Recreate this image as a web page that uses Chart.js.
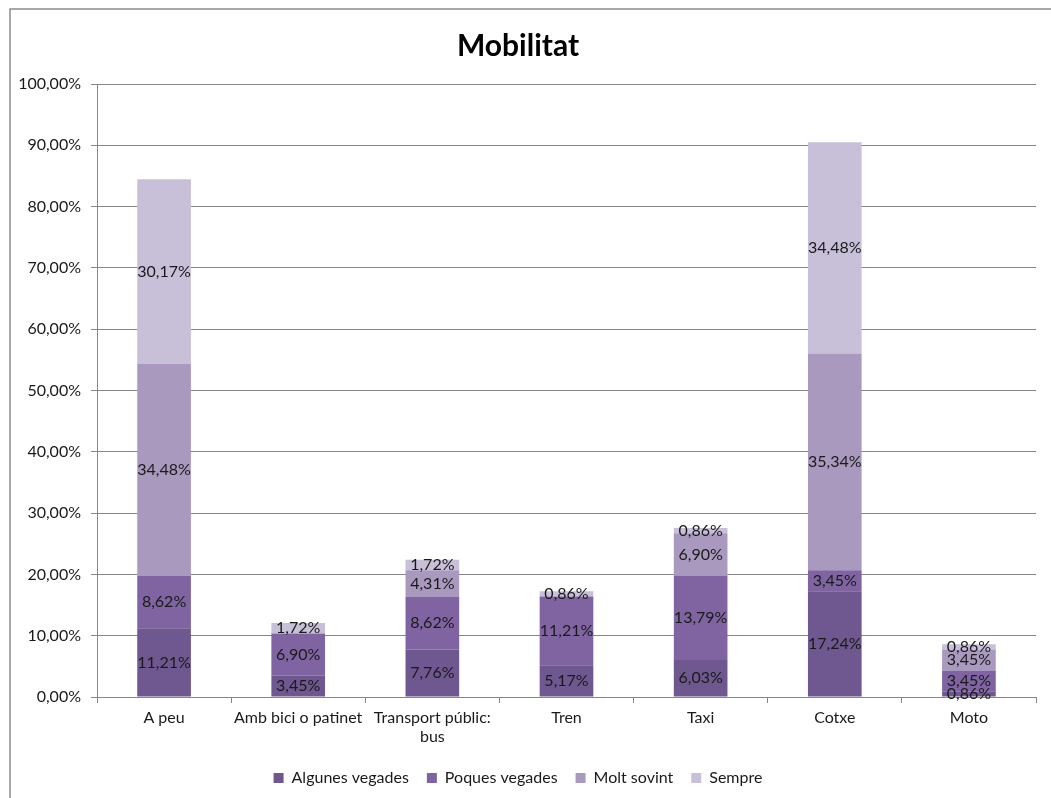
<!DOCTYPE html>
<html lang="ca">
<head>
    <meta charset="UTF-8">
    <title>Mobilitat</title>
    <script src="https://cdn.jsdelivr.net/npm/chart.js"></script>
    <style>
        body { margin: 0; background: #fff; }
        #wrap { width: 1051px; height: 798px; }
    </style>
</head>
<body>
    <div id="wrap"><canvas id="mobChart" width="1051" height="798"></canvas></div>

    <script>
        const categories = ['A peu', 'Amb bici o patinet', ['Transport públic:', 'bus'], 'Tren', 'Taxi', 'Cotxe', 'Moto'];
        const algunesVegades = [11.21, 3.45, 7.76, 5.17, 6.03, 17.24, 0.86];
        const poquesVegades  = [8.62, 6.90, 8.62, 11.21, 13.79, 3.45, 3.45];
        const moltSovint     = [34.48, 0, 4.31, 0, 6.90, 35.34, 3.45];
        const sempre         = [30.17, 1.72, 1.72, 0.86, 0.86, 34.48, 0.86];
        const yTicks = [0, 10, 20, 30, 40, 50, 60, 70, 80, 90, 100];

        const FONT = 'Lato, "Open Sans", sans-serif';
        const pct = v => v.toFixed(2).replace('.', ',') + '%';

        // draws the value in the middle of every segment, like excel data labels
        const barLabels = {
            id: 'barLabels',
            afterDatasetsDraw(chart) {
                const ctx = chart.ctx;
                ctx.save();
                ctx.font = '16px ' + FONT;
                ctx.fillStyle = '#1a1a1a';
                ctx.textAlign = 'center';
                ctx.textBaseline = 'middle';
                chart.data.datasets.forEach((ds, i) => {
                    chart.getDatasetMeta(i).data.forEach((bar, j) => {
                        const v = ds.data[j];
                        if (!v) return;
                        const p = bar.getProps(['x', 'y', 'base'], true);
                        ctx.fillText(pct(v), p.x, (p.y + p.base) / 2);
                    });
                });
                ctx.restore();
            }
        };

        const frame = {
            id: 'frame',
            beforeDraw(chart) {
                const ctx = chart.ctx;
                ctx.save();
                ctx.fillStyle = '#fff';
                ctx.fillRect(0, 0, chart.width, chart.height);
                ctx.strokeStyle = '#8c8c8c';
                ctx.lineWidth = 1.5;
                ctx.strokeRect(10, 9, chart.width + 20, chart.height + 20);
                ctx.restore();
            }
        };

        new Chart(document.getElementById('mobChart'), {
            type: 'bar',
            data: {
                labels: categories,
                datasets: [
                    { label: 'Algunes vegades', data: algunesVegades, backgroundColor: '#6f578f' },
                    { label: 'Poques vegades', data: poquesVegades, backgroundColor: '#7f64a1' },
                    { label: 'Molt sovint', data: moltSovint, backgroundColor: '#a999bf' },
                    { label: 'Sempre', data: sempre, backgroundColor: '#c8c0d8' }
                ]
            },
            options: {
                responsive: false,
                animation: false,
                layout: { padding: { left: 0, right: 15, top: 0, bottom: 2 } },
                datasets: { bar: { barPercentage: 0.4, categoryPercentage: 1, borderWidth: 0 } },
                scales: {
                    x: {
                        stacked: true,
                        grid: { drawOnChartArea: false, tickLength: 6, color: '#868686' },
                        border: { color: '#868686' },
                        ticks: { color: '#1a1a1a', font: { family: FONT, size: 16 }, padding: 5, maxRotation: 0, autoSkip: false },
                        afterFit: s => { s.height = 55; }
                    },
                    y: {
                        stacked: true,
                        min: 0,
                        max: 100,
                        afterBuildTicks: s => { s.ticks = yTicks.map(v => ({ value: v })); },
                        grid: { color: '#868686', tickLength: 6 },
                        border: { color: '#868686' },
                        ticks: { color: '#1a1a1a', font: { family: FONT, size: 16 }, padding: 10, callback: v => pct(v) },
                        afterFit: s => { s.width = 97; }
                    }
                },
                plugins: {
                    title: {
                        display: true,
                        text: 'Mobilitat',
                        color: '#000',
                        font: { family: FONT, size: 30, weight: 'bold' },
                        padding: { top: 28, bottom: 20 }
                    },
                    legend: {
                        position: 'bottom',
                        labels: { boxWidth: 10, boxHeight: 10, color: '#1a1a1a', font: { family: FONT, size: 16 }, padding: 18 }
                    },
                    tooltip: { enabled: false }
                }
            },
            plugins: [frame, barLabels]
        });
    </script>
</body>
</html>
